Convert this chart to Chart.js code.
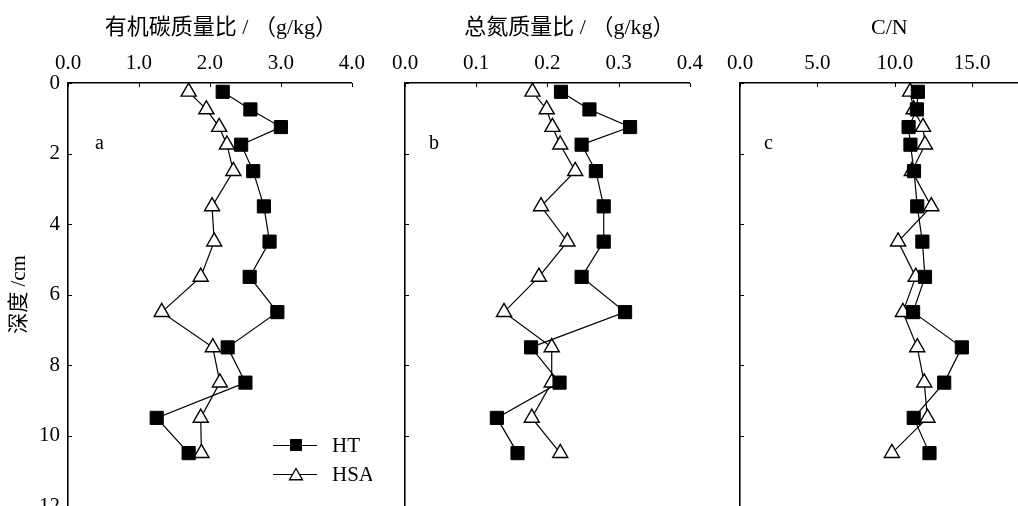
<!DOCTYPE html>
<html>
<head>
<meta charset="utf-8">
<script src="https://cdn.jsdelivr.net/npm/chart.js@4.4.1/dist/chart.umd.min.js"></script>
<style>
  body { margin: 0; background: #fff; }
  #wrap { position: relative; width: 1018px; height: 506px; overflow: hidden; background: #fff; }
  canvas { position: absolute; top: 0; }
</style>
</head>
<body>
<div id="wrap">
  <canvas id="chartA" width="372" height="530" style="left:0px"></canvas>
  <canvas id="chartB" width="340" height="530" style="left:370px"></canvas>
  <canvas id="chartC" width="370" height="530" style="left:705px"></canvas>
</div>
<script>
// profundidade (cm) de cada amostra
const depth = [0.25, 0.75, 1.25, 1.75, 2.5, 3.5, 4.5, 5.5, 6.5, 7.5, 8.5, 9.5, 10.5];
const depthTicks = [0, 2, 4, 6, 8, 10, 12];

// a - 有机碳质量比 (g/kg)
const socHT  = [2.18, 2.57, 3.00, 2.44, 2.61, 2.76, 2.84, 2.56, 2.95, 2.25, 2.50, 1.25, 1.70];
const socHSA = [1.70, 1.95, 2.13, 2.24, 2.33, 2.03, 2.06, 1.87, 1.32, 2.04, 2.14, 1.87, 1.88];

// b - 总氮质量比 (g/kg)
const tnHT  = [0.219, 0.259, 0.316, 0.248, 0.268, 0.279, 0.279, 0.248, 0.309, 0.177, 0.217, 0.129, 0.158];
const tnHSA = [0.179, 0.199, 0.207, 0.218, 0.239, 0.191, 0.228, 0.188, 0.139, 0.206, 0.206, 0.178, 0.218];

// c - C/N
const cnHT  = [11.49, 11.43, 10.89, 11.01, 11.24, 11.45, 11.78, 11.95, 11.18, 14.33, 13.19, 11.22, 12.24];
const cnHSA = [10.99, 11.22, 11.82, 11.95, 11.10, 12.36, 10.21, 11.35, 10.52, 11.45, 11.90, 12.11, 9.81];

const seriesNames = ['HT', 'HSA'];

const FAMILY = "'Liberation Serif', 'Noto Sans CJK SC', serif";

function pts(vals) {
    return vals.map((v, i) => ({ x: v, y: depth[i] }));
}

// marcas internas, letra do painel e legenda
const decor = {
    id: 'decor',
    afterDatasetsDraw(chart, args, opts) {
        const { ctx, chartArea: a, scales: { x, y } } = chart;
        ctx.save();
        ctx.strokeStyle = '#000';
        ctx.lineWidth = 1;
        ctx.beginPath();
        x.ticks.forEach(t => {
            const p = Math.round(x.getPixelForValue(t.value)) + 0.5;
            ctx.moveTo(p, a.top);
            ctx.lineTo(p, a.top + 4);
        });
        y.ticks.forEach(t => {
            const p = Math.round(y.getPixelForValue(t.value)) + 0.5;
            ctx.moveTo(a.left, p);
            ctx.lineTo(a.left + 4, p);
        });
        ctx.stroke();

        ctx.fillStyle = '#000';
        ctx.font = '20px ' + FAMILY;
        ctx.textBaseline = 'middle';
        ctx.textAlign = 'left';
        ctx.fillText(opts.tag, a.left + opts.tagX, a.top + 61);

        if (opts.legend) {
            const styles = [
                { pointStyle: 'rect', radius: 7.5, fill: '#000' },
                { pointStyle: 'triangle', radius: 7.5, fill: '#fff' }
            ];
            seriesNames.forEach((name, i) => {
                const cy = a.top + 362 + i * 29;
                ctx.beginPath();
                ctx.moveTo(a.left + 205, cy + 0.5);
                ctx.lineTo(a.left + 249, cy + 0.5);
                ctx.lineWidth = 1.2;
                ctx.stroke();
                ctx.fillStyle = styles[i].fill;
                ctx.lineWidth = 1.3;
                Chart.helpers.drawPoint(ctx, {
                    pointStyle: styles[i].pointStyle,
                    radius: styles[i].radius,
                    rotation: 0,
                    borderWidth: 1.3
                }, a.left + 228, cy + (i === 1 ? 2 : 0));
                ctx.fillStyle = '#000';
                ctx.font = '21px ' + FAMILY;
                ctx.fillText(name, a.left + 264, cy + 1);
            });
        }
        ctx.restore();
    }
};

function makePanel(id, ht, hsa, xMax, xStep, digits, title, tag, tagX, first) {
    return new Chart(document.getElementById(id), {
        type: 'scatter',
        data: {
            datasets: [{
                label: seriesNames[0],
                data: pts(ht),
                showLine: true,
                borderColor: '#000',
                borderWidth: 1.2,
                pointStyle: 'rect',
                pointRadius: 9.3,
                pointBackgroundColor: '#000',
                pointBorderColor: '#000',
                pointBorderWidth: 1
            }, {
                label: seriesNames[1],
                data: pts(hsa),
                showLine: true,
                borderColor: '#000',
                borderWidth: 1.2,
                pointStyle: 'triangle',
                pointRadius: 8.7,
                pointBackgroundColor: '#fff',
                pointBorderColor: '#000',
                pointBorderWidth: 1.4
            }]
        },
        options: {
            responsive: false,
            animation: false,
            layout: { padding: { top: 0, left: 0, right: 14, bottom: 24 } },
            plugins: {
                legend: { display: false },
                tooltip: { enabled: false },
                decor: { tag: tag, tagX: tagX, legend: first }
            },
            scales: {
                x: {
                    type: 'linear',
                    position: 'top',
                    min: 0,
                    max: xMax,
                    grid: { display: false, drawTicks: false },
                    border: { display: true, color: '#000', width: 1.6 },
                    ticks: {
                        stepSize: xStep,
                        padding: 7,
                        color: '#000',
                        font: { family: FAMILY, size: 21 },
                        maxRotation: 0,
                        callback: v => v.toFixed(digits)
                    },
                    title: {
                        display: true,
                        text: title,
                        color: '#000',
                        font: { family: FAMILY, size: 22 },
                        padding: { top: 15, bottom: 0 }
                    },
                    afterFit(s) { s.height = 83; }
                },
                y: {
                    type: 'linear',
                    position: 'left',
                    reverse: true,
                    min: 0,
                    max: 12,
                    grid: { display: false, drawTicks: false },
                    border: { display: true, color: '#000', width: 1.6 },
                    afterBuildTicks(s) { s.ticks = depthTicks.map(v => ({ value: v })); },
                    ticks: {
                        display: first,
                        padding: 8,
                        color: '#000',
                        font: { family: FAMILY, size: 21 }
                    },
                    title: {
                        display: first,
                        text: '深度 /cm',
                        color: '#000',
                        font: { family: FAMILY, size: 21 },
                        padding: { top: 7, bottom: 0 }
                    },
                    afterFit(s) { s.width = first ? 68 : 35; }
                }
            }
        },
        plugins: [decor]
    });
}

const chartA = makePanel('chartA', socHT, socHSA, 4, 1, 1, '    有机碳质量比 / （g/kg）', 'a', 27, true);
const chartB = makePanel('chartB', tnHT, tnHSA, 0.4, 0.1, 1, '        总氮质量比 / （g/kg）', 'b', 24, false);
const chartC = makePanel('chartC', cnHT, cnHSA, 20, 5, 1, 'C/N  ', 'c', 24, false);
</script>
</body>
</html>
